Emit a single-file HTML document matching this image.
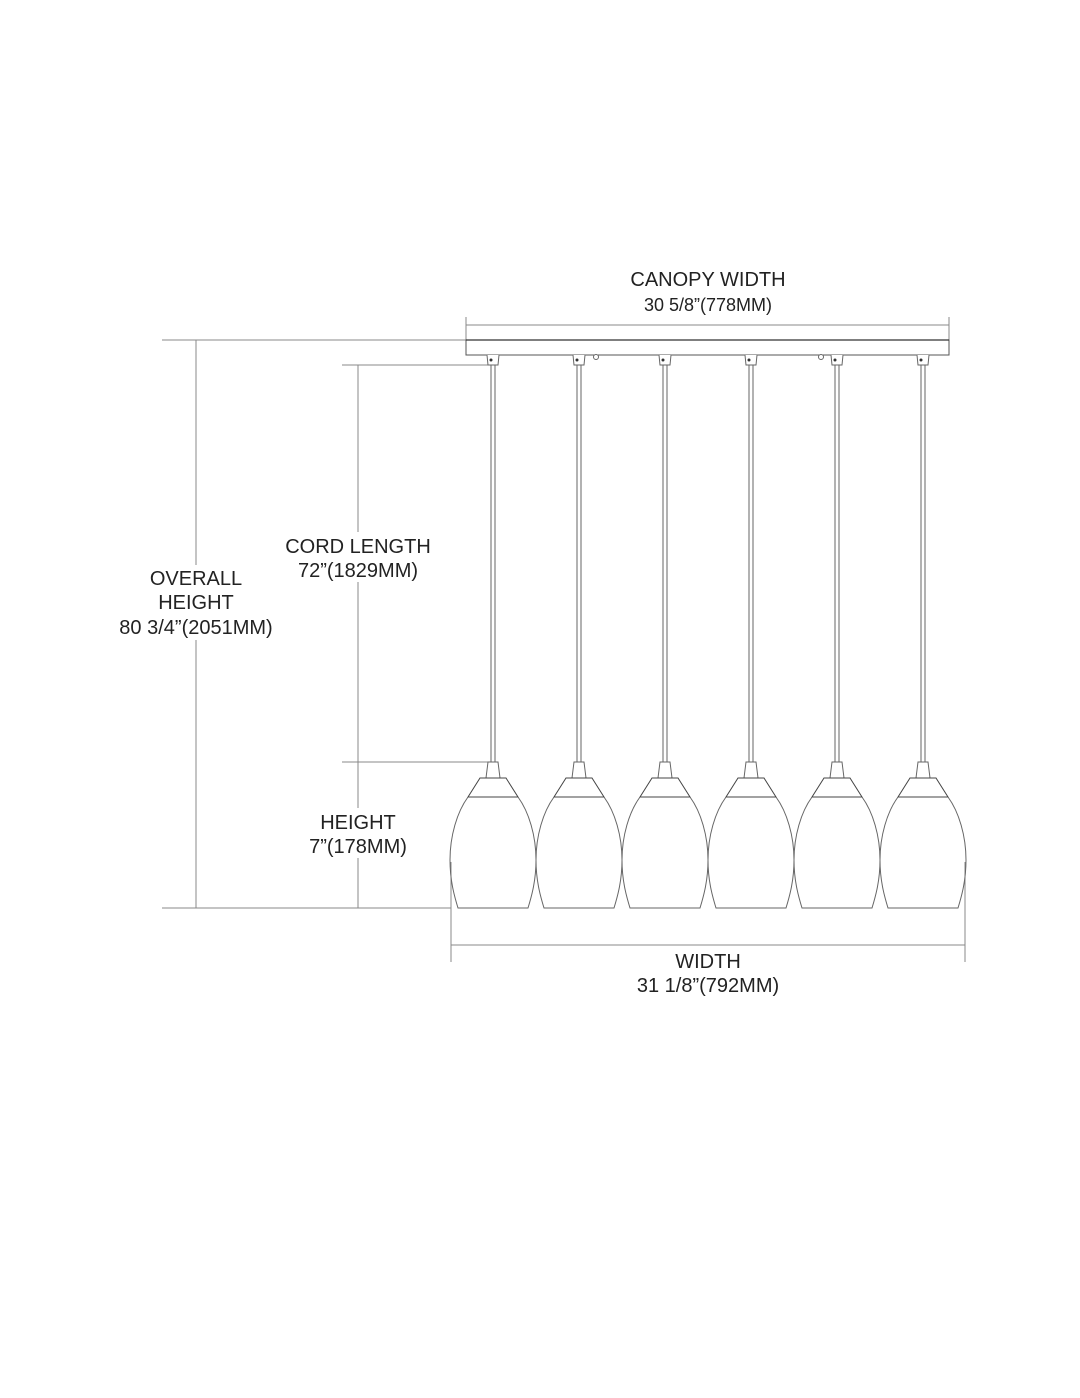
<!DOCTYPE html>
<html><head><meta charset="utf-8"><style>
html,body{margin:0;padding:0;background:#fff;}
svg{display:block;}
text{font-family:"Liberation Sans",Arial,sans-serif;fill:#222;}
</style></head><body>
<svg width="1080" height="1398" viewBox="0 0 1080 1398" xmlns="http://www.w3.org/2000/svg">
<defs>
<g id="p" stroke="#666" stroke-width="1" fill="none">
<path d="M-6,355 L-5,365 L5,365 L6,355" fill="#fff"/>
<circle cx="-2" cy="360" r="1.5" fill="#333" stroke="none"/>
<line x1="-2" y1="365" x2="-2" y2="762"/>
<line x1="2" y1="365" x2="2" y2="762"/>
<path d="M-5,762 L5,762 L7,778 L-7,778 Z" fill="#fff"/>
<path d="M-13,778 L13,778 L25,797 L-25,797 Z" fill="#fff" stroke="#444"/>
<path d="M-25,797 C-36,812 -43,836 -43,860 C-43,880 -39,895 -35,908 L35,908 C39,895 43,880 43,860 C43,836 36,812 25,797"/>
</g>
</defs>
<rect width="1080" height="1398" fill="#fff"/>
<g stroke="#888" stroke-width="1" fill="none">
<line x1="466" y1="317" x2="466" y2="340"/>
<line x1="949" y1="317" x2="949" y2="340"/>
<line x1="466" y1="325" x2="949" y2="325"/>
<line x1="162" y1="340" x2="466" y2="340"/>
<line x1="162" y1="908" x2="451" y2="908"/>
<line x1="196" y1="340" x2="196" y2="908"/>
<line x1="342" y1="365" x2="490" y2="365"/>
<line x1="342" y1="762" x2="493" y2="762"/>
<line x1="358" y1="365" x2="358" y2="908"/>
<line x1="451" y1="862" x2="451" y2="962"/>
<line x1="965" y1="862" x2="965" y2="962"/>
<line x1="451" y1="945" x2="965" y2="945"/>
</g>
<rect x="466" y="340" width="483" height="15" fill="#fff" stroke="#555" stroke-width="1"/>
<line x1="466" y1="340" x2="949" y2="340" stroke="#333" stroke-width="1.2"/>
<g stroke="#666" stroke-width="1" fill="#fff">
<circle cx="596" cy="357" r="2.5"/>
<circle cx="821" cy="357" r="2.5"/>
</g>
<use href="#p" x="493"/>
<use href="#p" x="579"/>
<use href="#p" x="665"/>
<use href="#p" x="751"/>
<use href="#p" x="837"/>
<use href="#p" x="923"/>
<g fill="#fff" stroke="none">
<rect x="140" y="565" width="112" height="75"/>
<rect x="278" y="532" width="160" height="50"/>
<rect x="300" y="808" width="118" height="50"/>
</g>
<g font-size="20" text-anchor="middle">
<text x="708" y="286">CANOPY WIDTH</text>
<text x="708" y="311" font-size="18">30 5/8”(778MM)</text>
<text x="196" y="585">OVERALL</text>
<text x="196" y="609">HEIGHT</text>
<text x="196" y="634">80 3/4”(2051MM)</text>
<text x="358" y="553">CORD LENGTH</text>
<text x="358" y="577">72”(1829MM)</text>
<text x="358" y="829">HEIGHT</text>
<text x="358" y="853">7”(178MM)</text>
<text x="708" y="968">WIDTH</text>
<text x="708" y="992">31 1/8”(792MM)</text>
</g>
</svg>
</body></html>
